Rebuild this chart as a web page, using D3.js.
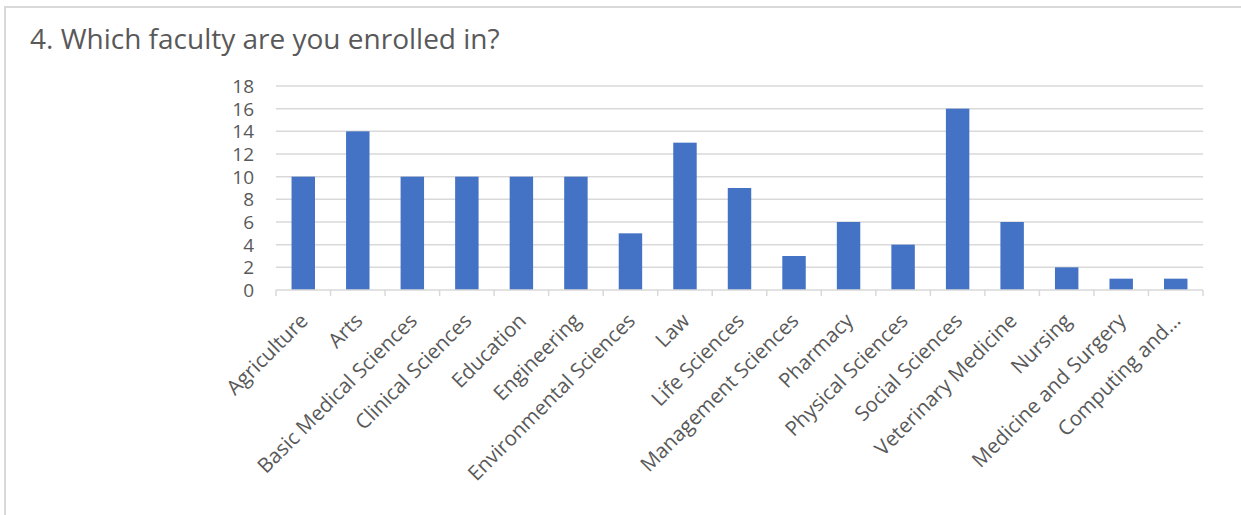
<!DOCTYPE html>
<html>
<head>
<meta charset="utf-8">
<script src="https://cdn.jsdelivr.net/npm/d3@7"></script>
<style>
  html, body { margin: 0; padding: 0; background: #fff; }
  svg { display: block; }
</style>
</head>
<body>
<svg id="chart" width="1241" height="515"></svg>
<script>
const categories = ["Agriculture", "Arts", "Basic Medical Sciences", "Clinical Sciences", "Education",
  "Engineering", "Environmental Sciences", "Law", "Life Sciences", "Management Sciences", "Pharmacy",
  "Physical Sciences", "Social Sciences", "Veterinary Medicine", "Nursing", "Medicine and Surgery",
  "Computing and…"];
const values = [10, 14, 10, 10, 10, 10, 5, 13, 9, 3, 6, 4, 16, 6, 2, 1, 1];
const yTicks = [0, 2, 4, 6, 8, 10, 12, 14, 16, 18];
const title = "4. Which faculty are you enrolled in?";

const svg = d3.select("#chart");
const font = "'Open Sans', sans-serif";
const textColor = "#595959";
const gridColor = "#d9d9d9";

// outer frame
svg.append("path")
  .attr("d", "M5,515 L5,7 L1241,7")
  .attr("fill", "none").attr("stroke", gridColor).attr("stroke-width", 2);

svg.append("text")
  .attr("x", 30).attr("y", 49)
  .attr("font-family", font).attr("font-size", 28)
  .attr("fill", textColor)
  .text(title);

const plot = { left: 276, right: 1203, top: 86, bottom: 290 };

const x = d3.scaleBand().domain(categories).range([plot.left, plot.right]).paddingInner(0.57).paddingOuter(0.285);
const xOuter = d3.scaleBand().domain(categories).range([plot.left, plot.right]);
const y = d3.scaleLinear().domain([0, 18]).range([plot.bottom, plot.top]);

// gridlines
svg.append("g").selectAll("line").data(yTicks.filter(d => d > 0)).join("line")
  .attr("x1", plot.left).attr("x2", plot.right)
  .attr("y1", d => y(d)).attr("y2", d => y(d))
  .attr("stroke", gridColor).attr("stroke-width", 1.5);

// y tick labels
svg.append("g").selectAll("text").data(yTicks).join("text")
  .attr("x", 254).attr("y", d => y(d))
  .attr("dy", "0.36em")
  .attr("text-anchor", "end")
  .attr("font-family", font).attr("font-size", 19)
  .attr("fill", textColor)
  .text(d => d);

// bars
svg.append("g").selectAll("rect").data(categories).join("rect")
  .attr("x", d => x(d))
  .attr("width", x.bandwidth())
  .attr("y", (d, i) => y(values[i]))
  .attr("height", (d, i) => y(0) - y(values[i]))
  .attr("fill", "#4472c4");

// x axis line and ticks
const axisG = svg.append("g");
axisG.append("line")
  .attr("x1", plot.left).attr("x2", plot.right)
  .attr("y1", plot.bottom).attr("y2", plot.bottom)
  .attr("stroke", gridColor).attr("stroke-width", 1.5);
const boundaries = categories.map(c => xOuter(c)).concat([plot.right]);
axisG.selectAll("line.tick").data(boundaries).join("line")
  .attr("class", "tick")
  .attr("x1", d => d).attr("x2", d => d)
  .attr("y1", plot.bottom).attr("y2", plot.bottom + 6)
  .attr("stroke", gridColor).attr("stroke-width", 1.5);

// category labels
svg.append("g").selectAll("text").data(categories).join("text")
  .attr("transform", d => `translate(${xOuter(d) + xOuter.bandwidth() / 2 + 6},${plot.bottom + 32}) rotate(-45)`)
  .attr("text-anchor", "end")
  .attr("font-family", font).attr("font-size", 20.5)
  .attr("fill", textColor)
  .text(d => d);
</script>
</body>
</html>
